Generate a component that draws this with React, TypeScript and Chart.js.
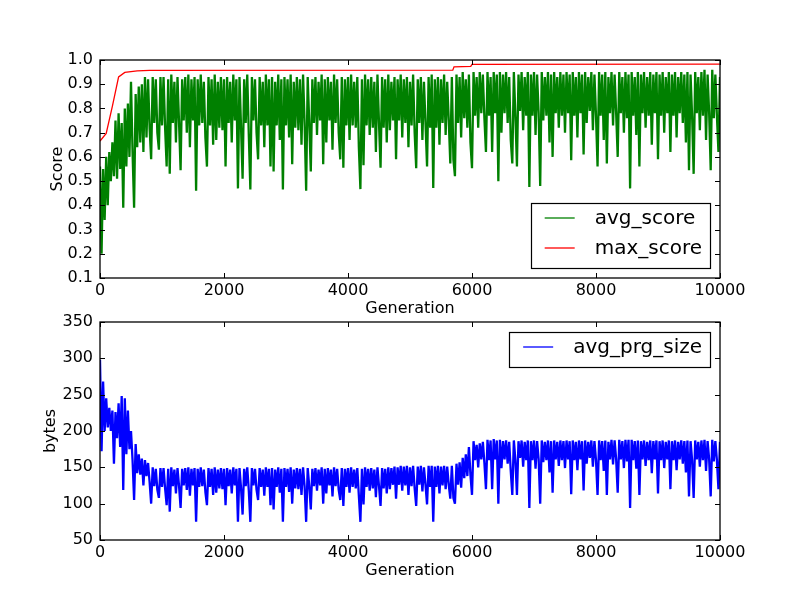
import React, { useEffect, useRef } from 'react';
import { Chart, registerables } from 'chart.js';

Chart.register(...registerables);

// ---------- data ----------
const GEN_STEP = 25; // one sample every 25 generations
const X_MIN = 0;
const X_MAX = 10000;
const X_TICK_STEP = 2000;

const SCORE_MIN = 0.1;
const SCORE_MAX = 1.0;
const SCORE_TICK_STEP = 0.1;

const SIZE_MIN = 50;
const SIZE_MAX = 350;
const SIZE_TICK_STEP = 50;

const avgScore = [
  0.56,0.20,0.55,0.34,0.60,0.40,0.62,0.50,0.66,0.52,0.75,0.51,0.78,0.55,0.74,0.39,0.80,0.56,0.82,0.60,
  0.91,0.62,0.39,0.86,0.64,0.89,0.66,0.90,0.62,0.93,0.68,0.92,0.72,0.59,0.93,0.74,0.92,0.70,0.63,0.93,
  0.73,0.93,0.72,0.56,0.92,0.53,0.94,0.74,0.91,0.66,0.93,0.74,0.545,0.92,0.75,0.93,0.70,0.94,0.64,0.92,
  0.75,0.93,0.46,0.92,0.73,0.94,0.74,0.91,0.68,0.56,0.93,0.73,0.92,0.65,0.94,0.67,0.91,0.72,0.93,0.71,
  0.92,0.56,0.93,0.74,0.91,0.66,0.94,0.75,0.92,0.47,0.93,0.72,0.51,0.92,0.74,0.94,0.69,0.465,0.93,0.75,
  0.92,0.70,0.59,0.93,0.73,0.91,0.64,0.94,0.73,0.92,0.56,0.93,0.54,0.91,0.73,0.94,0.67,0.92,0.465,0.93,
  0.73,0.92,0.68,0.94,0.57,0.91,0.72,0.93,0.71,0.92,0.65,0.94,0.74,0.46,0.93,0.74,0.54,0.92,0.74,0.93,
  0.69,0.91,0.75,0.94,0.57,0.92,0.66,0.93,0.75,0.91,0.63,0.94,0.74,0.92,0.70,0.59,0.93,0.555,0.92,0.73,
  0.93,0.67,0.94,0.73,0.91,0.72,0.93,0.64,0.467,0.92,0.566,0.94,0.73,0.92,0.69,0.93,0.72,0.91,0.62,0.94,
  0.74,0.555,0.93,0.72,0.92,0.66,0.94,0.71,0.91,0.75,0.93,0.59,0.92,0.75,0.94,0.68,0.92,0.74,0.93,0.64,
  0.91,0.73,0.94,0.70,0.553,0.92,0.74,0.93,0.67,0.91,0.74,0.56,0.93,0.72,0.94,0.472,0.92,0.72,0.93,0.65,
  0.92,0.74,0.94,0.69,0.91,0.75,0.573,0.93,0.59,0.52,0.94,0.74,0.93,0.68,0.95,0.76,0.92,0.72,0.94,0.66,
  0.553,0.95,0.77,0.93,0.72,0.95,0.78,0.94,0.76,0.62,0.95,0.77,0.93,0.62,0.95,0.78,0.94,0.50,0.95,0.70,
  0.94,0.78,0.95,0.74,0.93,0.67,0.573,0.95,0.77,0.56,0.94,0.79,0.95,0.71,0.93,0.77,0.95,0.476,0.94,0.77,
  0.95,0.69,0.94,0.78,0.48,0.95,0.75,0.93,0.77,0.95,0.66,0.94,0.60,0.95,0.78,0.93,0.72,0.95,0.77,0.94,
  0.70,0.95,0.78,0.94,0.586,0.95,0.77,0.93,0.68,0.95,0.78,0.94,0.61,0.95,0.74,0.93,0.79,0.95,0.71,0.94,
  0.77,0.56,0.95,0.77,0.94,0.67,0.95,0.573,0.93,0.78,0.95,0.73,0.94,0.78,0.60,0.95,0.78,0.93,0.70,0.95,
  0.76,0.94,0.47,0.95,0.77,0.93,0.69,0.95,0.56,0.94,0.78,0.95,0.72,0.93,0.77,0.95,0.65,0.94,0.78,0.95,
  0.59,0.94,0.77,0.95,0.70,0.93,0.78,0.95,0.62,0.94,0.77,0.95,0.68,0.93,0.78,0.95,0.74,0.94,0.66,0.95,
  0.545,0.94,0.77,0.53,0.95,0.78,0.93,0.71,0.95,0.77,0.96,0.67,0.94,0.78,0.545,0.96,0.76,0.94,0.77,0.62,
  0.93,
];

const maxScoreGen = [0, 100, 200, 300, 400, 600, 800, 5690, 5710, 5980, 6000, 10000];
const maxScore = [0.665, 0.697, 0.81, 0.93, 0.949, 0.955, 0.957, 0.958, 0.972, 0.974, 0.982, 0.983];

const avgPrgSize = [
  298,172,268,200,245,205,232,200,228,155,226,190,238,178,248,119,245,168,228,175,
  200,160,105,182,142,168,140,162,125,160,138,156,130,100,150,124,148,119,108,149,
  123,149,121,98,148,89,150,124,147,114,149,124,94,148,125,149,119,150,111,148,
  125,149,75,148,123,150,124,147,116,98,149,123,148,112,150,115,147,121,149,120,
  148,98,149,124,147,114,150,125,148,75,149,121,85,148,124,150,118,75,149,125,
  148,119,105,149,123,147,111,150,123,148,98,149,92,147,123,150,115,148,75,149,
  123,148,116,150,100,147,121,149,120,148,112,150,124,75,149,124,92,148,124,149,
  118,147,125,150,100,148,114,149,125,147,110,150,124,148,119,105,149,97,148,123,
  149,115,150,123,147,121,149,111,75,148,99,150,123,148,118,149,121,147,109,150,
  124,97,149,121,148,114,150,120,149,126,151,107,150,126,152,118,151,125,152,112,
  150,124,152,121,97,151,126,152,117,150,126,99,152,123,152,75,151,123,152,114,
  151,125,152,120,151,126,107,152,108,100,155,126,157,122,163,135,168,138,178,140,
  112,186,160,181,150,183,161,185,156,120,188,160,187,120,189,161,187,100,188,149,
  186,161,187,155,185,145,112,187,160,112,186,163,187,151,185,160,187,94,186,160,
  187,148,186,161,100,187,157,185,160,187,143,186,115,187,161,185,152,187,160,186,
  149,187,161,186,113,187,160,185,146,187,161,186,118,187,155,185,163,187,151,186,
  160,112,187,160,186,145,187,112,185,161,188,154,187,161,115,188,161,186,149,188,
  158,188,94,188,160,186,148,187,112,186,161,187,152,185,160,187,142,186,161,187,
  114,186,160,187,149,185,161,187,120,186,160,187,146,185,161,187,155,186,143,187,
  110,186,160,108,187,161,185,151,187,160,188,145,186,161,110,188,158,186,160,120,
  185,
];

// ---------- styling helpers ----------
const FONT = "'DejaVu Sans', 'Liberation Sans', sans-serif";
Chart.defaults.font.family = FONT;
Chart.defaults.font.size = 16;
Chart.defaults.color = '#000';

type LegendItem = { label: string; color: string };

function makeFramePlugin(items: LegendItem[], corner: 'bottom-right' | 'top-right') {
  return {
    id: 'mplFrame' + corner,
    afterDatasetsDraw(chart: any) {
      const { ctx, chartArea: a, scales } = chart;
      ctx.save();
      // inward ticks on all four sides
      const L = 5;
      ctx.strokeStyle = '#000';
      ctx.lineWidth = 1;
      ctx.beginPath();
      scales.x.ticks.forEach((t: any) => {
        const px = Math.round(scales.x.getPixelForValue(t.value)) + 0.5;
        ctx.moveTo(px, a.bottom);
        ctx.lineTo(px, a.bottom - L);
        ctx.moveTo(px, a.top);
        ctx.lineTo(px, a.top + L);
      });
      scales.y.ticks.forEach((t: any) => {
        const py = Math.round(scales.y.getPixelForValue(t.value)) + 0.5;
        ctx.moveTo(a.left, py);
        ctx.lineTo(a.left + L, py);
        ctx.moveTo(a.right, py);
        ctx.lineTo(a.right - L, py);
      });
      ctx.stroke();
      // frame
      ctx.lineWidth = 1.3;
      ctx.strokeRect(a.left, a.top, a.right - a.left, a.bottom - a.top);

      // legend
      ctx.font = `20px ${FONT}`;
      const textW = Math.max(...items.map((it) => ctx.measureText(it.label).width));
      const boxRight = a.right - 10;
      const textLeft = boxRight - 8 - textW;
      const lineEnd = textLeft - 20;
      const lineStart = lineEnd - 30;
      const boxLeft = lineStart - 14;
      const boxH = 15 + 30 * (items.length - 1) + 20;
      const boxTop = corner === 'bottom-right' ? a.bottom - 10 - boxH : a.top + 10;
      ctx.fillStyle = '#fff';
      ctx.fillRect(boxLeft, boxTop, boxRight - boxLeft, boxH);
      ctx.lineWidth = 1.2;
      ctx.strokeStyle = '#000';
      ctx.strokeRect(Math.round(boxLeft) + 0.5, Math.round(boxTop) + 0.5, Math.round(boxRight - boxLeft), Math.round(boxH));
      items.forEach((it, k) => {
        const cy = boxTop + 15 + 30 * k;
        ctx.strokeStyle = it.color;
        ctx.lineWidth = 1.3;
        ctx.beginPath();
        ctx.moveTo(lineStart, cy);
        ctx.lineTo(lineEnd, cy);
        ctx.stroke();
        ctx.fillStyle = '#000';
        ctx.textBaseline = 'middle';
        ctx.textAlign = 'left';
        ctx.fillText(it.label, textLeft, cy + 1);
      });
      ctx.restore();
    },
  };
}

function xScale() {
  return {
    type: 'linear' as const,
    min: X_MIN,
    max: X_MAX,
    grid: { display: false, drawTicks: false },
    border: { display: false },
    ticks: { stepSize: X_TICK_STEP, padding: 3, maxRotation: 0, autoSkip: false, callback: (v: any) => String(v) },
    title: { display: true, text: 'Generation', font: { size: 16 }, padding: { top: 0, bottom: 2 } },
    afterFit: (s: any) => { s.height = 42; },
  };
}

export default function App() {
  const topRef = useRef<HTMLCanvasElement>(null);
  const botRef = useRef<HTMLCanvasElement>(null);

  useEffect(() => {
    const top = new Chart(topRef.current!, {
      type: 'line',
      data: {
        datasets: [
          {
            label: 'max_score',
            data: maxScore.map((v, i) => ({ x: maxScoreGen[i], y: v })),
            borderColor: '#ff0000',
            borderWidth: 1.3,
            pointRadius: 0,
            tension: 0,
            order: 0,
          },
          {
            label: 'avg_score',
            data: avgScore.map((v, i) => ({ x: i * GEN_STEP, y: v })),
            borderColor: '#008000',
            borderWidth: 2.3,
            borderJoinStyle: 'bevel',
            pointRadius: 0,
            tension: 0,
            order: 1,
          },
        ],
      },
      options: {
        animation: false,
        responsive: false,
        devicePixelRatio: 1,
        layout: { padding: { left: 40, right: 80, top: 60, bottom: 0 } },
        plugins: { legend: { display: false }, tooltip: { enabled: false } },
        scales: {
          x: xScale(),
          y: {
            type: 'linear',
            min: SCORE_MIN,
            max: SCORE_MAX,
            grid: { display: false, drawTicks: false },
            border: { display: false },
            ticks: { stepSize: SCORE_TICK_STEP, padding: 7, callback: (v: any) => Number(v).toFixed(1) },
            title: { display: true, text: 'Score', font: { size: 16 }, padding: { top: 8, bottom: 0 } },
            afterFit: (s: any) => { s.width = 60; },
          },
        },
      },
      plugins: [makeFramePlugin([
        { label: 'avg_score', color: '#008000' },
        { label: 'max_score', color: '#ff0000' },
      ], 'bottom-right')],
    } as any);

    const bot = new Chart(botRef.current!, {
      type: 'line',
      data: {
        datasets: [
          {
            label: 'avg_prg_size',
            data: avgPrgSize.map((v, i) => ({ x: i * GEN_STEP, y: v })),
            borderColor: '#0000ff',
            borderWidth: 2.3,
            borderJoinStyle: 'bevel',
            pointRadius: 0,
            tension: 0,
          },
        ],
      },
      options: {
        animation: false,
        responsive: false,
        devicePixelRatio: 1,
        layout: { padding: { left: 40, right: 80, top: 22, bottom: 18 } },
        plugins: { legend: { display: false }, tooltip: { enabled: false } },
        scales: {
          x: xScale(),
          y: {
            type: 'linear',
            min: SIZE_MIN,
            max: SIZE_MAX,
            grid: { display: false, drawTicks: false },
            border: { display: false },
            ticks: { stepSize: SIZE_TICK_STEP, padding: 7, callback: (v: any) => String(v) },
            title: { display: true, text: 'bytes', font: { size: 16 }, padding: { top: 1, bottom: 0 } },
            afterFit: (s: any) => { s.width = 60; },
          },
        },
      },
      plugins: [makeFramePlugin([{ label: 'avg_prg_size', color: '#0000ff' }], 'top-right')],
    } as any);

    return () => {
      top.destroy();
      bot.destroy();
    };
  }, []);

  return (
    <div style={{ position: 'absolute', left: 0, top: 0, width: 800, height: 600, background: '#fff' }}>
      <canvas ref={topRef} width={800} height={320} style={{ position: 'absolute', left: 0, top: 0, width: 800, height: 320 }} />
      <canvas ref={botRef} width={800} height={300} style={{ position: 'absolute', left: 0, top: 300, width: 800, height: 300 }} />
    </div>
  );
}
